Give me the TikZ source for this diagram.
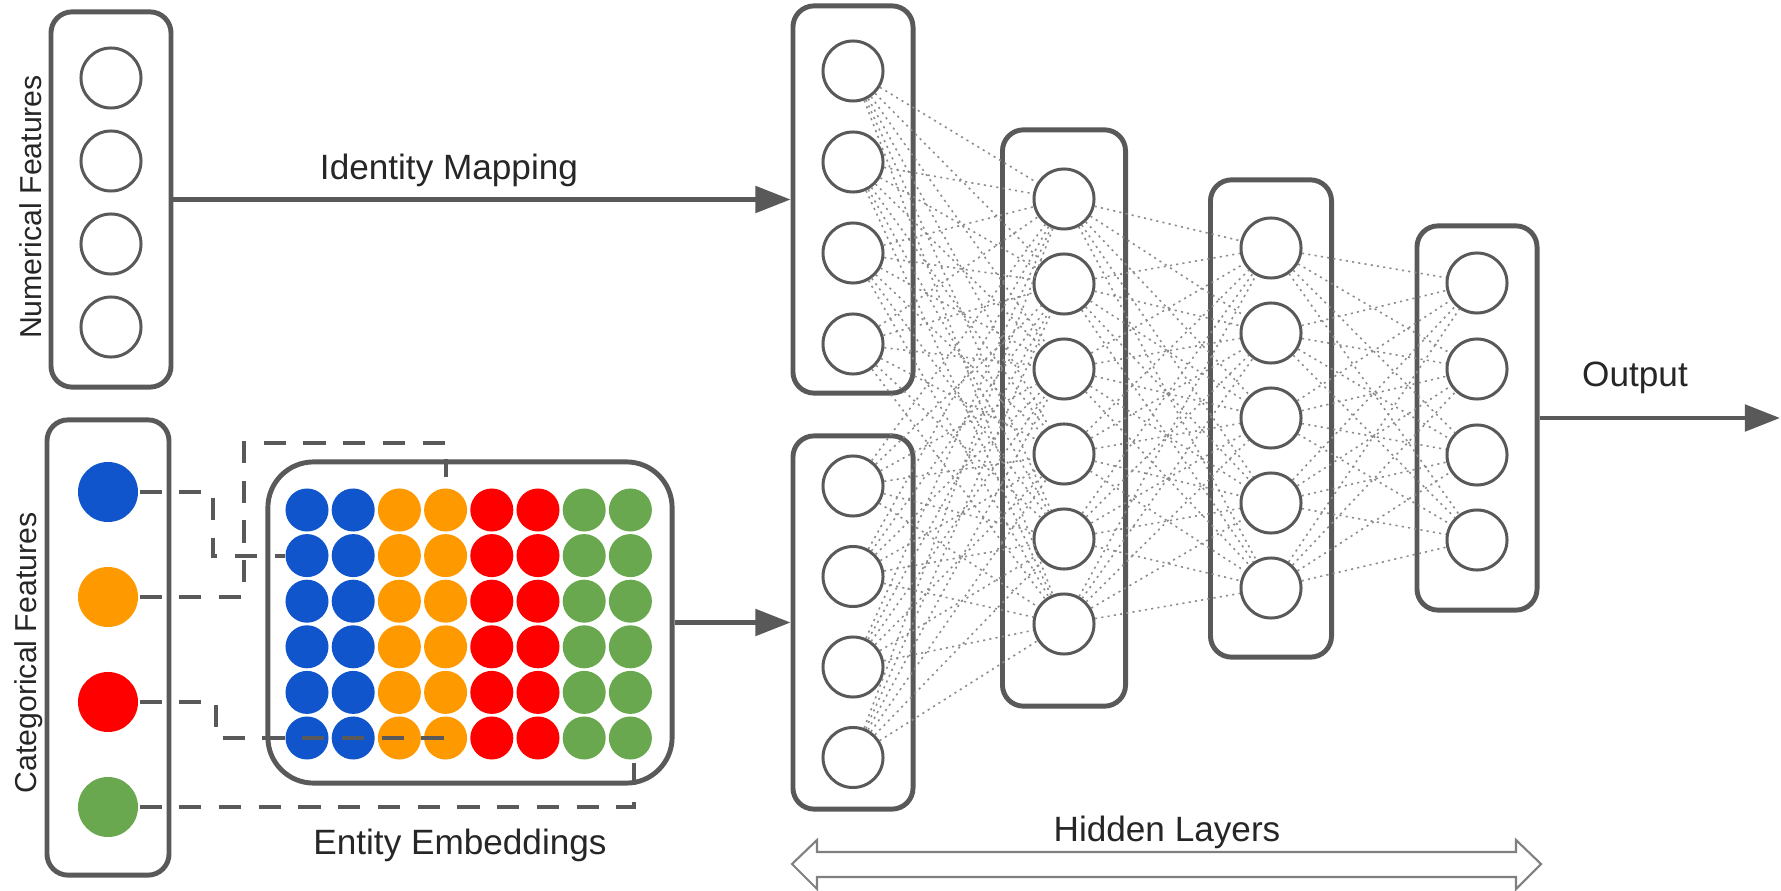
\documentclass[tikz,border=0pt]{standalone}
\usepackage{fontspec}
\setmainfont{Liberation Sans}
\usepackage{tikz}
\usetikzlibrary{arrows.meta, positioning}
\definecolor{linegray}{HTML}{595959}
\definecolor{dotgray}{HTML}{8C8C8C}
\definecolor{gblue}{HTML}{1155CC}
\definecolor{gorange}{HTML}{FF9900}
\definecolor{gred}{HTML}{FF0000}
\definecolor{ggreen}{HTML}{6AA84F}
\tikzstyle{layer} = [draw=linegray, line width=1.4pt, rounded corners=6pt, minimum width=1.2cm, inner sep=0pt]
\tikzstyle{neuron} = [circle, draw=linegray, line width=0.85pt, minimum size=0.6cm, inner sep=0pt]
\tikzstyle{embcirc} = [circle, minimum size=0.43cm, inner sep=0pt]
\tikzstyle{arrow} = [draw=linegray, line width=1.2pt, -{Triangle[length=10pt,width=7.5pt]}]
\tikzstyle{dashline} = [draw=linegray, line width=1.1pt, dash pattern=on 6.3pt off 5pt]
\tikzstyle{wire} = [draw=dotgray, line width=0.45pt, dash pattern=on 0.6pt off 1.2pt]
\tikzstyle{lbl} = [text=black!85, font=\fontsize{10}{12}\selectfont]
\tikzstyle{sidelbl} = [lbl, rotate=90, font=\fontsize{8.6}{10}\selectfont]

\begin{document}
\begin{tikzpicture}[x=0.01cm, y=-0.01cm]
        \useasboundingbox (0,0) rectangle (1781,891);

        % input side
        \node[layer, minimum height=3.75cm] (numbox) at (111,199.5) {};
        \node[layer, minimum width=1.22cm, minimum height=4.55cm] (catbox) at (108,647.5) {};
        \node[layer, minimum width=4.04cm, minimum height=3.21cm, rounded corners=13pt] (embbox) at (470,622.5) {};
        \foreach \y [count=\i] in {78,161,244,327}
            \node[neuron] (num\i) at (111,\y) {};
        \foreach \y/\c [count=\i] in {492/gblue,597/gorange,702/gred,807/ggreen}
            \node[neuron, draw=none, fill=\c] (cat\i) at (108,\y) {};
        \foreach \c [count=\j] in {gblue,gblue,gorange,gorange,gred,gred,ggreen,ggreen}
            \foreach \i in {1,...,6}
                \node[embcirc, fill=\c] (e-\i-\j) at ({307+46.2*(\j-1)},{510+45.6*(\i-1)}) {};

        % network
        \node[layer, minimum height=3.87cm] (inA) at (853,199.5) {};
        \node[layer, minimum height=3.73cm] (inB) at (853,622.5) {};
        \node[layer, minimum width=1.23cm, minimum height=5.76cm] (hid1) at (1064,418) {};
        \node[layer, minimum width=1.21cm, minimum height=4.77cm] (hid2) at (1271,418.5) {};
        \node[layer, minimum height=3.84cm] (outbox) at (1477,418) {};
        \foreach \y [count=\i] in {71,162,253,344,486,576.5,667,757.5}
            \node[neuron] (in\i) at (853,\y) {};
        \foreach \y [count=\i] in {199,284,369,454,539,624}
            \node[neuron] (h\i) at (1064,\y) {};
        \foreach \y [count=\i] in {248,333,418,503,588}
            \node[neuron] (k\i) at (1271,\y) {};
        \foreach \y [count=\i] in {283,369,455,540}
            \node[neuron] (o\i) at (1477,\y) {};

        \foreach \i in {1,...,8}
            \foreach \j in {1,...,6}
                \draw[wire] (in\i) -- (h\j);
        \foreach \i in {1,...,6}
            \foreach \j in {1,...,5}
                \draw[wire] (h\i) -- (k\j);
        \foreach \i in {1,...,5}
            \foreach \j in {1,...,4}
                \draw[wire] (k\i) -- (o\j);

        % arrows
        \coordinate (outend) at (1780,418);
        \draw[arrow] (numbox) -- (inA);
        \draw[arrow] (embbox) -- (inB);
        \draw[arrow] (outbox) -- (outend);

        % lookups into the embedding table
        \coordinate (tap2) at (446,477);
        \coordinate (tap3) at (457,738);
        \coordinate (tap4) at (634,763);
        \draw[dashline] (cat1) -- (213,492) |- (e-2-1);
        \draw[dashline] (cat2) -| (244,443) -| (tap2);
        \draw[dashline] (cat3) -| (216,738) -- (tap3);
        \draw[dashline] (cat4) -| (tap4);

        \draw[draw=gray, line width=0.6pt, fill=white] (792,864) -- (817,840) -- (817,852) -- (1516,852)
            -- (1516,840) -- (1541,864) -- (1516,889) -- (1516,877) -- (817,877) -- (817,889) -- cycle;

        % labels
        \node[lbl] (idlbl) at (449,170) {Identity Mapping};
        \node[lbl] (outlbl) at (1635,378) {Output};
        \node[lbl] (emblbl) at (460,845) {Entity Embeddings};
        \node[lbl] (hidlbl) at (1167,832) {Hidden Layers};
        \node[sidelbl] (numlbl) at (31,207) {Numerical Features};
        \node[sidelbl] (catlbl) at (29,653) {Categorical Features};
\end{tikzpicture}
\end{document}
